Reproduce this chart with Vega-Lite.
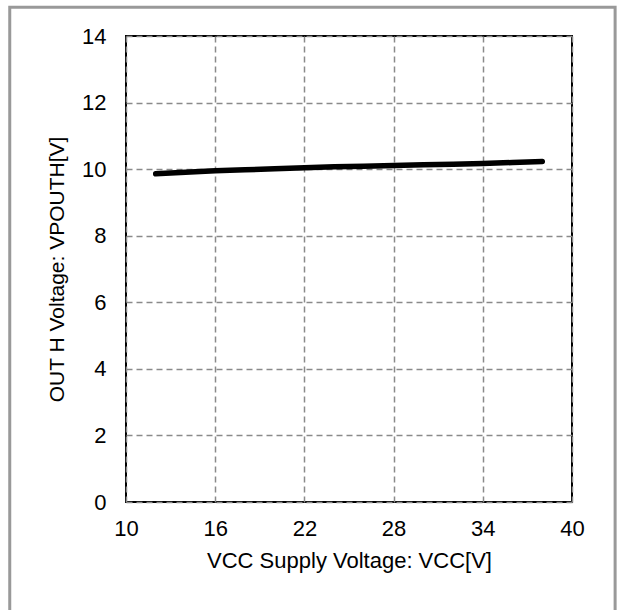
{
  "$schema": "https://vega.github.io/schema/vega-lite/v6.json",
  "autosize": {"type": "none"},
  "padding": {"left": 126, "top": 36, "right": 46, "bottom": 108},
  "width": 446,
  "height": 466,
  "background": "white",
  "config": {
    "view": {"stroke": "black", "strokeWidth": 2},
    "font": "Liberation Sans",
    "axis": {
      "labelFont": "Liberation Sans",
      "titleFont": "Liberation Sans",
      "labelFontSize": 22,
      "titleFontSize": 22,
      "labelColor": "black",
      "titleColor": "black",
      "titleFontWeight": "normal",
      "labelFlush": false,
      "labelOverlap": false,
      "ticks": false,
      "domain": false,
      "grid": true,
      "gridColor": "#8a8a8a",
      "gridDash": [6, 4],
      "gridWidth": 1.5
    }
  },
  "layer": [
    {
      "data": {"values": [{"x1": 2.18, "x2": 42.9, "y1": -3.5, "y2": 14.86}]},
      "mark": {"type": "rect", "fill": null, "stroke": "#999999", "strokeWidth": 3, "clip": false},
      "encoding": {
        "x": {"field": "x1", "type": "quantitative", "scale": {"domain": [10, 40], "nice": false, "zero": false}},
        "x2": {"field": "x2"},
        "y": {"field": "y1", "type": "quantitative", "scale": {"domain": [0, 14], "nice": false}},
        "y2": {"field": "y2"}
      }
    },
    {
      "data": {
        "values": [
          {"vcc": 12, "v": 9.86},
          {"vcc": 14, "v": 9.91},
          {"vcc": 16, "v": 9.95},
          {"vcc": 18, "v": 9.98},
          {"vcc": 20, "v": 10.01},
          {"vcc": 22, "v": 10.04},
          {"vcc": 24, "v": 10.07},
          {"vcc": 26, "v": 10.09},
          {"vcc": 28, "v": 10.11},
          {"vcc": 30, "v": 10.13},
          {"vcc": 32, "v": 10.15},
          {"vcc": 34, "v": 10.17},
          {"vcc": 36, "v": 10.2},
          {"vcc": 38, "v": 10.23}
        ]
      },
      "mark": {"type": "line", "color": "black", "strokeWidth": 5.5, "strokeCap": "round", "strokeJoin": "round"},
      "encoding": {
        "x": {
          "field": "vcc", "type": "quantitative",
          "scale": {"domain": [10, 40], "nice": false, "zero": false},
          "axis": {"values": [10, 16, 22, 28, 34, 40], "title": "VCC Supply Voltage: VCC[V]", "labelPadding": 16, "titlePadding": 11}
        },
        "y": {
          "field": "v", "type": "quantitative",
          "scale": {"domain": [0, 14], "nice": false},
          "axis": {"values": [0, 2, 4, 6, 8, 10, 12, 14], "title": "OUT H Voltage: VPOUTH[V]", "titleFontSize": 21, "labelPadding": 20, "titlePadding": 14}
        }
      }
    }
  ]
}
